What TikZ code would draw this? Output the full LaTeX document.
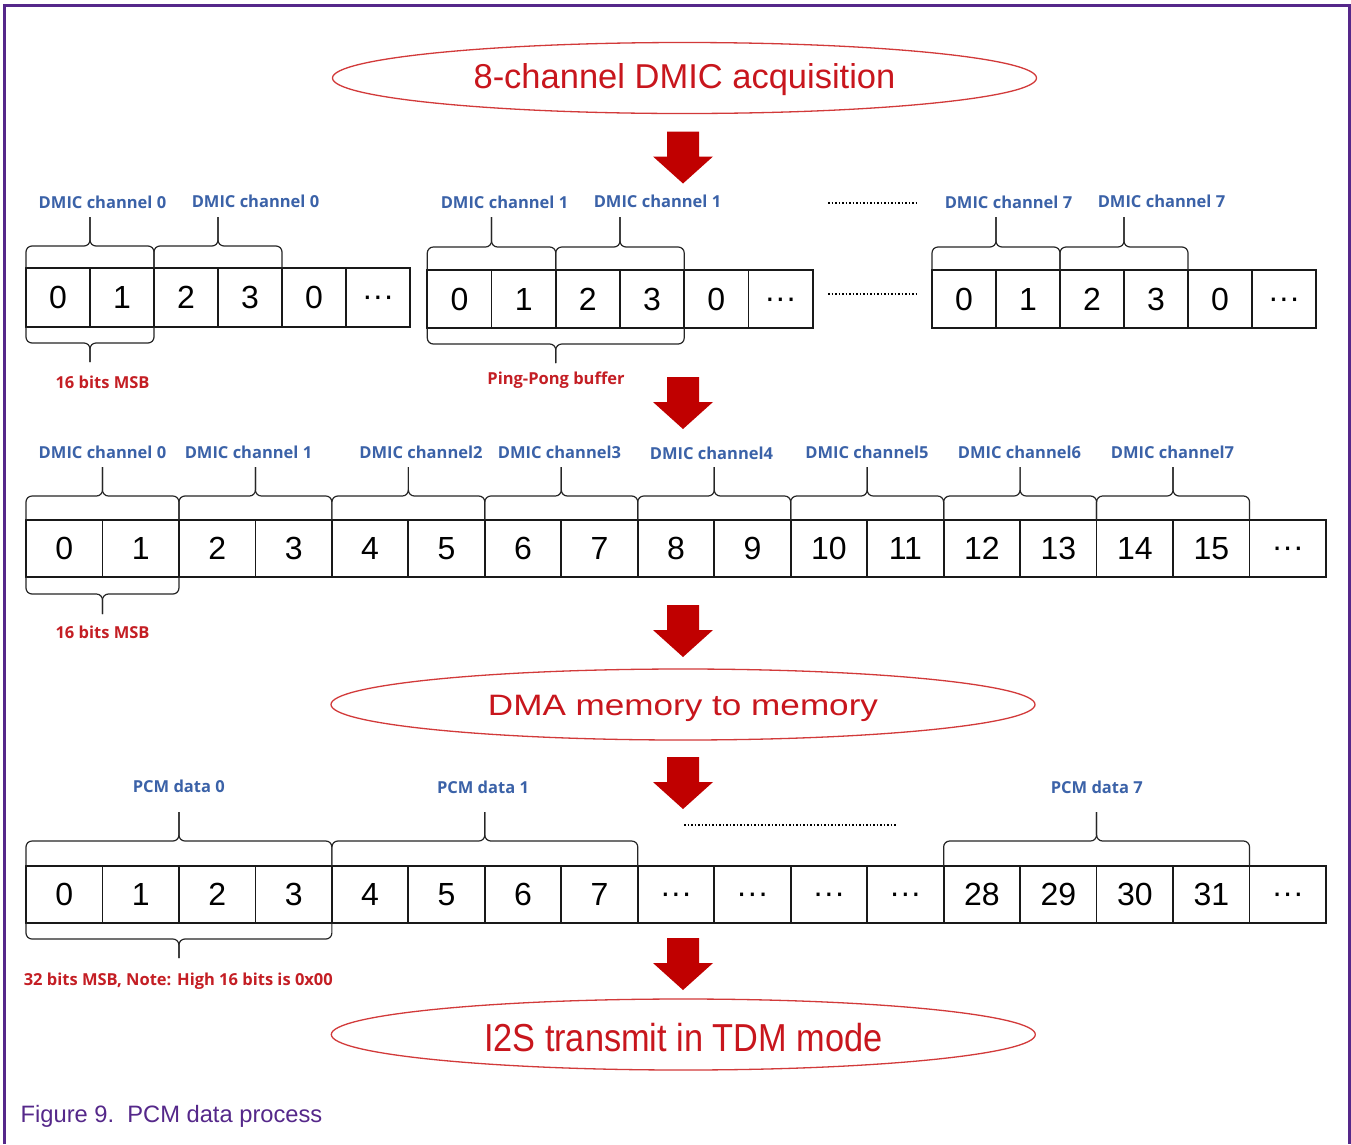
\documentclass[tikz,border=0pt]{standalone}
\usepackage{fontspec}
\setmainfont{Liberation Sans}
\newfontfamily\lblfont{Open Sans}
\usetikzlibrary{shapes.geometric,calc}

\definecolor{framepurple}{HTML}{55288A}
\definecolor{lblblue}{HTML}{3B62A8}
\definecolor{lblred}{HTML}{C41E24}
\definecolor{ovalred}{HTML}{D23A3A}
\definecolor{ovaltext}{HTML}{C8161D}
\definecolor{arrowred}{HTML}{C00000}

\tikzset{
  cell/.style={draw=black!90, line width=1.8pt, inner sep=0pt, outer sep=0pt,
    font=\fontsize{32}{32}\selectfont},
  bracestyle/.style={draw=black!85, line width=1.2pt, rounded corners=6pt},
  bluelbl/.style={text=lblblue, font=\lblfont\bfseries\fontsize{16.5}{16.5}\selectfont,
    anchor=base, inner sep=0pt},
  redlbl/.style={bluelbl, text=lblred},
  oval/.style={ellipse, draw=ovalred, line width=1.3pt, inner sep=0pt, text=ovaltext,
    minimum width=704pt, minimum height=71pt},
  dotline/.style={line width=2pt, dash pattern=on 1.6pt off 1.9pt},
  blockarrow/.style={fill=arrowred}
}

% brace above cells #1..#2: bar #3 above the cells, tip #4 above the cells
\newcommand\topbrace[4]{%
  \draw[bracestyle] (#1.north west) -- ++(0,-#3)
    -- ($(#1.north west)!0.5!(#2.north east)+(0,-#3)$) -- ++(0,{-(#4-#3)});
  \draw[bracestyle] (#2.north east) -- ++(0,-#3)
    -- ($(#1.north west)!0.5!(#2.north east)+(0,-#3)$) -- ++(0,{-(#4-#3)});
}
% brace below cells #1..#2
\newcommand\botbrace[4]{%
  \draw[bracestyle] (#1.south west) -- ++(0,#3)
    -- ($(#1.south west)!0.5!(#2.south east)+(0,#3)$) -- ++(0,{#4-#3});
  \draw[bracestyle] (#2.south east) -- ++(0,#3)
    -- ($(#1.south west)!0.5!(#2.south east)+(0,#3)$) -- ++(0,{#4-#3});
}
% thick red downward arrow, centred at #1, top edge at #2
\newcommand\downblock[2]{%
  \fill[blockarrow] ({#1-16},#2) -- ({#1+16},#2) -- ({#1+16},{#2+25}) -- ({#1+30},{#2+25})
    -- (#1,{#2+52}) -- ({#1-30},{#2+25}) -- ({#1-16},{#2+25}) -- cycle;
}
% centred ellipsis cell entry, boxed like a digit
\newcommand\mdots{\vphantom{0}\raisebox{2pt}[0pt][0pt]{\char"00B7\char"00B7\char"00B7}}
% shift text down inside an oval without changing its box
\newcommand\sinktext[2]{\raisebox{-#1}[\height][\depth]{#2}}

\begin{document}
\begin{tikzpicture}[x=1pt,y=-1pt]
\useasboundingbox (0,0) rectangle (1351,1144);
\fill[white] (0,0) rectangle (1351,1144);

% page frame
\draw[framepurple, line width=3pt] (4.8,1144) -- (4.8,5.5) -- (1349.8,5.5) -- (1349.8,1144);

% process stages
\node[oval] (acq) at (684.5,78) {\sinktext{1.5pt}{\fontsize{34.5}{34.5}\selectfont 8-channel DMIC acquisition}};
\node[oval] (dma) at (683,704.5) {\sinktext{3.5pt}{\fontsize{29.5}{29.5}\selectfont\scalebox{1.19}[1]{DMA memory to memory}}};
\node[oval] (i2s) at (683.3,1034.5) {\sinktext{3.5pt}{\fontsize{39}{39}\selectfont\scalebox{0.88}[1]{I2S transmit in TDM mode}}};

% flow arrows
\downblock{683}{131.5}
\downblock{683}{377}
\downblock{683}{605}
\downblock{683}{757}
\downblock{683}{938}

% ---- row 1: per-channel ping-pong buffers
\foreach \i/\t in {0/0,1/1,2/2,3/3,4/0,5/\mdots}
  \node[cell, minimum width=64pt, minimum height=59pt] (a\i) at ({26+64*(\i+0.5)},297.5) {\t};
\foreach \i/\t in {0/0,1/1,2/2,3/3,4/0,5/\mdots}
  \node[cell, minimum width=64.23pt, minimum height=58pt] (b\i) at ({427.3+64.23*(\i+0.5)},299) {\t};
\foreach \i/\t in {0/0,1/1,2/2,3/3,4/0,5/\mdots}
  \node[cell, minimum width=64pt, minimum height=58pt] (c\i) at ({932+64*(\i+0.5)},299) {\t};

\topbrace{a0}{a1}{22}{51}
\topbrace{a2}{a3}{22}{51}
\botbrace{a0}{a1}{16}{35}
\topbrace{b0}{b1}{23}{53}
\topbrace{b2}{b3}{23}{53}
\botbrace{b0}{b3}{16}{35}
\topbrace{c0}{c1}{23}{53}
\topbrace{c2}{c3}{23}{53}

\node[bluelbl] (la0) at (102.5,208.3) {DMIC channel 0};
\node[bluelbl] (la1) at (255.5,207.3) {DMIC channel 0};
\node[bluelbl] (lb0) at (504.5,208.3) {DMIC channel 1};
\node[bluelbl] (lb1) at (657.5,207.3) {DMIC channel 1};
\node[bluelbl] (lc0) at (1008.5,208.3) {DMIC channel 7};
\node[bluelbl] (lc1) at (1161.5,207.3) {DMIC channel 7};
\node[redlbl] (msba) at (102.5,388.3) {16 bits MSB};
\node[redlbl] (pingpong) at (556,384.3) {Ping-Pong buffer};

\draw[dotline] (828,202.5) -- (916,202.5);
\draw[dotline] (828,293.5) -- (916,293.5);

% ---- row 2: interleaved 16-bit samples
\foreach \i/\t in {0/0,1/1,2/2,3/3,4/4,5/5,6/6,7/7,8/8,9/9,10/10,11/11,12/12,13/13,14/14,15/15,16/\mdots}
  \node[cell, minimum width=76.47pt, minimum height=57pt] (d\i) at ({26+76.47*(\i+0.5)},548.5) {\t};
\foreach \k in {0,...,7}{
  \pgfmathtruncatemacro\ka{2*\k}
  \pgfmathtruncatemacro\kb{2*\k+1}
  \topbrace{d\ka}{d\kb}{24}{53}
}
\botbrace{d0}{d1}{17}{37}

\node[bluelbl] (ld0) at (102.5,458.3) {DMIC channel 0};
\node[bluelbl] (ld1) at (248.5,458.3) {DMIC channel 1};
\node[bluelbl] (ld2) at (421,458.3) {DMIC channel2};
\node[bluelbl] (ld3) at (559.5,458.3) {DMIC channel3};
\node[bluelbl] (ld4) at (711.5,459.3) {DMIC channel4};
\node[bluelbl] (ld5) at (867,458.3) {DMIC channel5};
\node[bluelbl] (ld6) at (1019.5,458.3) {DMIC channel6};
\node[bluelbl] (ld7) at (1172.5,458.3) {DMIC channel7};
\node[redlbl] (msbd) at (102.5,638.3) {16 bits MSB};

% ---- row 3: 32-bit PCM words
\foreach \i/\t in {0/0,1/1,2/2,3/3,4/4,5/5,6/6,7/7,8/\mdots,9/\mdots,10/\mdots,11/\mdots,12/28,13/29,14/30,15/31,16/\mdots}
  \node[cell, minimum width=76.47pt, minimum height=57pt] (e\i) at ({26+76.47*(\i+0.5)},894.5) {\t};
\topbrace{e0}{e3}{25}{54}
\topbrace{e4}{e7}{25}{54}
\topbrace{e12}{e15}{25}{54}
\botbrace{e0}{e3}{16}{35}

\node[bluelbl] (pcm0) at (178.8,792.3) {PCM data 0};
\node[bluelbl] (pcm1) at (483,793.3) {PCM data 1};
\node[bluelbl] (pcm7) at (1096.8,793.3) {PCM data 7};
\node[redlbl] (msbe) at (178.3,985) {32 bits MSB, Note: High 16 bits is 0x00};

\draw[dotline] (684,825) -- (897,825);

% caption
\node[anchor=base west, inner sep=0pt, text=framepurple, font=\fontsize{23.7}{23.7}\selectfont]
  (caption) at (20.5,1122.7) {Figure 9.\ \ PCM data process};
\end{tikzpicture}
\end{document}
